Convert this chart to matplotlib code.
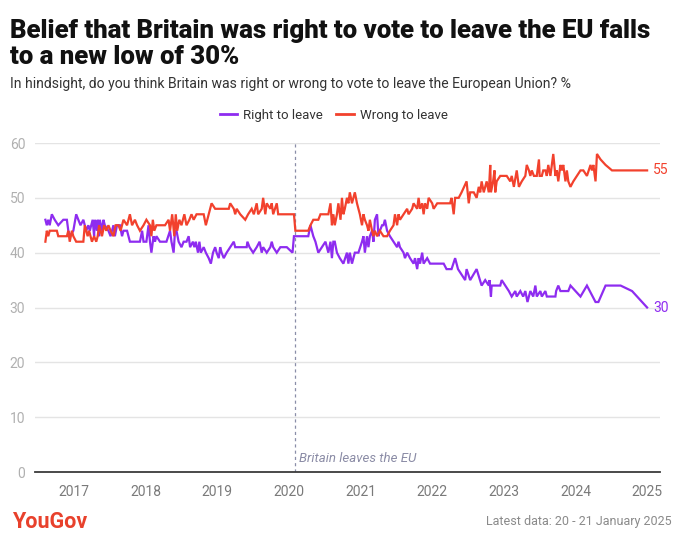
import matplotlib
matplotlib.use('Agg')
import matplotlib.pyplot as plt
from matplotlib.lines import Line2D

plt.rcParams['font.family'] = ['Roboto', 'DejaVu Sans']

# decimal years / percentages
right_dates = [2016.60, 2016.62, 2016.64, 2016.66, 2016.69, 2016.73, 2016.78, 2016.85, 2016.90, 2016.92,
               2016.94, 2016.99, 2017.03, 2017.06, 2017.09, 2017.13, 2017.17, 2017.20, 2017.22, 2017.26,
               2017.28, 2017.29, 2017.32, 2017.33, 2017.35, 2017.36, 2017.39, 2017.41, 2017.43, 2017.48,
               2017.51, 2017.55, 2017.57, 2017.60, 2017.64, 2017.67, 2017.69, 2017.74, 2017.78, 2017.92,
               2017.95, 2017.97, 2018.01, 2018.04, 2018.06, 2018.08, 2018.11, 2018.13, 2018.15, 2018.20,
               2018.29, 2018.34, 2018.36, 2018.39, 2018.41, 2018.43, 2018.46, 2018.50, 2018.53, 2018.57,
               2018.60, 2018.62, 2018.66, 2018.68, 2018.70, 2018.73, 2018.75, 2018.77, 2018.81, 2018.84,
               2018.88, 2018.91, 2018.94, 2018.97, 2018.99, 2019.02, 2019.04, 2019.06, 2019.09, 2019.13,
               2019.18, 2019.23, 2019.25, 2019.41, 2019.42, 2019.45, 2019.50, 2019.55, 2019.59, 2019.62,
               2019.64, 2019.69, 2019.74, 2019.76, 2019.78, 2019.83, 2019.88, 2019.97, 2020.05, 2020.07,
               2020.09, 2020.27, 2020.30, 2020.32, 2020.34, 2020.37, 2020.41, 2020.46, 2020.51, 2020.55,
               2020.58, 2020.60, 2020.62, 2020.64, 2020.67, 2020.71, 2020.76, 2020.81, 2020.83, 2020.85,
               2020.88, 2020.90, 2020.92, 2020.97, 2021.02, 2021.04, 2021.06, 2021.09, 2021.11, 2021.13,
               2021.16, 2021.18, 2021.20, 2021.23, 2021.25, 2021.27, 2021.30, 2021.32, 2021.34, 2021.37,
               2021.41, 2021.46, 2021.51, 2021.53, 2021.55, 2021.60, 2021.62, 2021.65, 2021.69, 2021.74,
               2021.76, 2021.79, 2021.81, 2021.83, 2021.86, 2021.88, 2021.93, 2021.97, 2022.02, 2022.16,
               2022.20, 2022.25, 2022.27, 2022.32, 2022.34, 2022.36, 2022.41, 2022.46, 2022.48, 2022.53,
               2022.62, 2022.69, 2022.74, 2022.79, 2022.80, 2022.82, 2022.83, 2022.95, 2022.97, 2023.02,
               2023.07, 2023.11, 2023.16, 2023.18, 2023.23, 2023.27, 2023.30, 2023.33, 2023.37, 2023.41,
               2023.44, 2023.46, 2023.51, 2023.53, 2023.58, 2023.60, 2023.72, 2023.73, 2023.76, 2023.79,
               2023.90, 2023.93, 2024.00, 2024.07, 2024.16, 2024.28, 2024.32, 2024.42, 2024.51, 2024.63,
               2024.79, 2025.00]
right_vals = [46, 45, 46, 45, 47, 46, 45, 46, 46, 44,
              43, 44, 47, 46, 45, 46, 44, 45, 44, 46,
              43, 46, 44, 46, 43, 46, 44, 46, 45, 44,
              43, 45, 43, 45, 45, 43, 44, 44, 42, 42,
              44, 42, 42, 45, 42, 40, 43, 42, 43, 42,
              42, 44, 42, 40, 44, 44, 42, 41, 42, 42,
              43, 41, 42, 41, 42, 40, 42, 40, 41, 40,
              39, 38, 40, 41, 40, 39, 41, 40, 39, 40,
              41, 42, 41, 41, 42, 41, 40, 41, 42, 40,
              41, 40, 41, 42, 41, 40, 41, 41, 40, 43,
              43, 43, 45, 44, 43, 42, 40, 41, 42, 40,
              42, 39, 42, 42, 40, 39, 38, 40, 38, 40,
              38, 39, 40, 40, 42, 43, 40, 43, 41, 43,
              44, 42, 46, 47, 43, 44, 45, 45, 46, 44,
              43, 42, 41, 42, 41, 40, 39, 40, 39, 38,
              39, 37, 39, 38, 40, 38, 39, 38, 38, 38,
              37, 37, 37, 39, 38, 37, 36, 35, 37, 35,
              37, 34, 35, 34, 35, 32, 34, 34, 35, 34,
              33, 32, 33, 32, 33, 32, 33, 31, 33, 32,
              34, 32, 33, 32, 33, 32, 32, 33, 34, 33,
              33, 34, 33, 32, 34, 31, 31, 34, 34, 34,
              33, 30]

wrong_dates = [2016.60, 2016.62, 2016.64, 2016.66, 2016.76, 2016.78, 2016.90, 2016.92, 2016.94, 2016.97,
               2016.99, 2017.03, 2017.13, 2017.15, 2017.19, 2017.21, 2017.25, 2017.28, 2017.31, 2017.33,
               2017.35, 2017.39, 2017.42, 2017.45, 2017.48, 2017.51, 2017.55, 2017.58, 2017.62, 2017.65,
               2017.69, 2017.74, 2017.78, 2017.81, 2017.85, 2017.88, 2017.92, 2017.97, 2018.01, 2018.06,
               2018.08, 2018.10, 2018.12, 2018.15, 2018.27, 2018.32, 2018.34, 2018.37, 2018.40, 2018.42,
               2018.44, 2018.47, 2018.50, 2018.54, 2018.57, 2018.61, 2018.64, 2018.67, 2018.71, 2018.81,
               2018.84, 2018.88, 2018.92, 2018.97, 2019.16, 2019.18, 2019.23, 2019.25, 2019.27, 2019.32,
               2019.39, 2019.43, 2019.48, 2019.51, 2019.55, 2019.57, 2019.62, 2019.64, 2019.67, 2019.69,
               2019.74, 2019.76, 2019.78, 2019.83, 2019.85, 2020.04, 2020.07, 2020.09, 2020.27, 2020.30,
               2020.34, 2020.41, 2020.44, 2020.55, 2020.58, 2020.60, 2020.62, 2020.64, 2020.67, 2020.69,
               2020.72, 2020.74, 2020.76, 2020.78, 2020.81, 2020.83, 2020.85, 2020.88, 2020.90, 2020.92,
               2020.95, 2020.97, 2020.99, 2021.02, 2021.04, 2021.06, 2021.09, 2021.11, 2021.13, 2021.16,
               2021.18, 2021.20, 2021.23, 2021.27, 2021.32, 2021.37, 2021.41, 2021.46, 2021.48, 2021.51,
               2021.53, 2021.55, 2021.60, 2021.65, 2021.67, 2021.72, 2021.74, 2021.79, 2021.81, 2021.83,
               2021.86, 2021.88, 2021.90, 2021.93, 2021.95, 2022.00, 2022.02, 2022.07, 2022.25, 2022.27,
               2022.30, 2022.32, 2022.37, 2022.41, 2022.48, 2022.51, 2022.53, 2022.58, 2022.62, 2022.65,
               2022.67, 2022.69, 2022.72, 2022.74, 2022.76, 2022.79, 2022.81, 2022.82, 2022.85, 2022.87,
               2022.88, 2022.90, 2022.95, 2023.04, 2023.09, 2023.11, 2023.14, 2023.18, 2023.21, 2023.25,
               2023.30, 2023.32, 2023.35, 2023.37, 2023.39, 2023.42, 2023.46, 2023.49, 2023.50, 2023.53,
               2023.55, 2023.58, 2023.60, 2023.62, 2023.65, 2023.69, 2023.72, 2023.74, 2023.76, 2023.79,
               2023.81, 2023.83, 2023.86, 2023.88, 2023.90, 2023.93, 2023.97, 2024.02, 2024.07, 2024.11,
               2024.16, 2024.21, 2024.23, 2024.25, 2024.28, 2024.30, 2024.35, 2024.42, 2024.51, 2025.00]
wrong_vals = [42, 44, 43, 44, 44, 43, 43, 44, 42, 44,
              43, 42, 42, 45, 43, 44, 42, 43, 42, 43,
              45, 43, 45, 44, 45, 44, 43, 45, 45, 44,
              46, 45, 47, 45, 46, 45, 44, 45, 46, 45,
              43, 46, 44, 45, 45, 46, 44, 47, 43, 47,
              44, 46, 45, 47, 45, 46, 47, 46, 47, 47,
              45, 47, 49, 48, 48, 49, 48, 47, 48, 47,
              46, 47, 48, 47, 49, 47, 48, 50, 47, 49,
              48, 49, 47, 49, 47, 47, 47, 44, 44, 45,
              46, 46, 47, 47, 49, 45, 47, 45, 47, 49,
              46, 50, 47, 48, 50, 49, 51, 49, 50, 51,
              49, 48, 47, 45, 47, 46, 45, 44, 46, 44,
              43, 44, 43, 44, 43, 43, 44, 45, 47, 45,
              47, 46, 47, 48, 47, 48, 49, 48, 50, 48,
              49, 47, 49, 48, 50, 49, 48, 49, 49, 50,
              47, 50, 50, 51, 53, 49, 51, 51, 50, 52,
              51, 53, 51, 52, 53, 51, 56, 51, 53, 55,
              51, 53, 54, 54, 53, 54, 52, 55, 52, 53,
              54, 56, 55, 54, 55, 54, 54, 57, 54, 54,
              55, 55, 54, 56, 54, 58, 54, 55, 53, 56,
              55, 56, 53, 55, 53, 52, 53, 54, 55, 55,
              54, 56, 55, 56, 53, 58, 57, 56, 55, 55]

year_ticks = [2017, 2018, 2019, 2020, 2021, 2022, 2023, 2024, 2025]
brexit_day = 2020.08

PURPLE = '#8e2cf0'
RED = '#f2412d'

fig = plt.figure(figsize=(6.8, 5.45), dpi=100)
ax = fig.add_axes([35/680, 73/545, 625/680, 329/545])

ax.plot(right_dates, right_vals, color=PURPLE, lw=1.6, solid_joinstyle='miter')
ax.plot(wrong_dates, wrong_vals, color=RED, lw=1.6, solid_joinstyle='miter')

ax.set_xlim(2016.455, 2025.18)
ax.set_ylim(0, 60)
ax.set_yticks(range(0, 61, 10))
ax.set_xticks(year_ticks)
ax.set_xticklabels([str(y) for y in year_ticks])
ax.tick_params(axis='y', length=0, pad=7, labelsize=10, labelcolor='#b0b0b0')
ax.tick_params(axis='x', length=0, pad=9, labelsize=10, labelcolor='#7a7a7a')
for s in ax.spines.values():
    s.set_visible(False)
for v in range(10, 61, 10):
    ax.axhline(v, color='#e4e4e4', lw=1, zorder=0)
ax.axhline(0, color='#3a3a3a', lw=1.3, zorder=3, clip_on=False)

# brexit marker
ax.axvline(brexit_day, color='#8a8ea8', lw=0.9, dashes=(2.5, 2.5), zorder=1)
ax.text(brexit_day + 0.06, 1.2, 'Britain leaves the EU', style='italic',
        fontsize=9.5, color='#8b8ca6', ha='left', va='bottom')

# end labels
ax.text(right_dates[-1] + 0.08, right_vals[-1], str(right_vals[-1]),
        color=PURPLE, fontsize=10, va='center', ha='left')
ax.text(wrong_dates[-1] + 0.08, wrong_vals[-1], str(wrong_vals[-1]),
        color=RED, fontsize=10, va='center', ha='left')

handles = [Line2D([], [], color=PURPLE, lw=2), Line2D([], [], color=RED, lw=2)]
fig.legend(handles, ['Right to leave', 'Wrong to leave'], loc='center',
           bbox_to_anchor=(0.491, 1 - 115/545), ncol=2, frameon=False,
           fontsize=9.5, handlelength=1.3, handletextpad=0.5, columnspacing=1.0,
           labelcolor='#333333')

fig.text(10/680, 1 - 19/545,
         'Belief that Britain was right to vote to leave the EU falls\nto a new low of 30%',
         fontsize=18.5, fontweight='heavy', color='#111111', ha='left', va='top',
         linespacing=1.1)
fig.text(10/680, 1 - 84/545,
         'In hindsight, do you think Britain was right or wrong to vote to leave the European Union? %',
         fontsize=10.1, color='#333333', ha='left', va='center')

fig.text(12/680, 1 - 522/545, 'YouGov', fontsize=15.5, fontweight='bold',
         color='#e8412c', ha='left', va='center')
fig.text(672/680, 1 - 522/545, 'Latest data: 20 - 21 January 2025', fontsize=9,
         color='#8a8a8a', ha='right', va='center')

fig.savefig('out.png', dpi=100)
